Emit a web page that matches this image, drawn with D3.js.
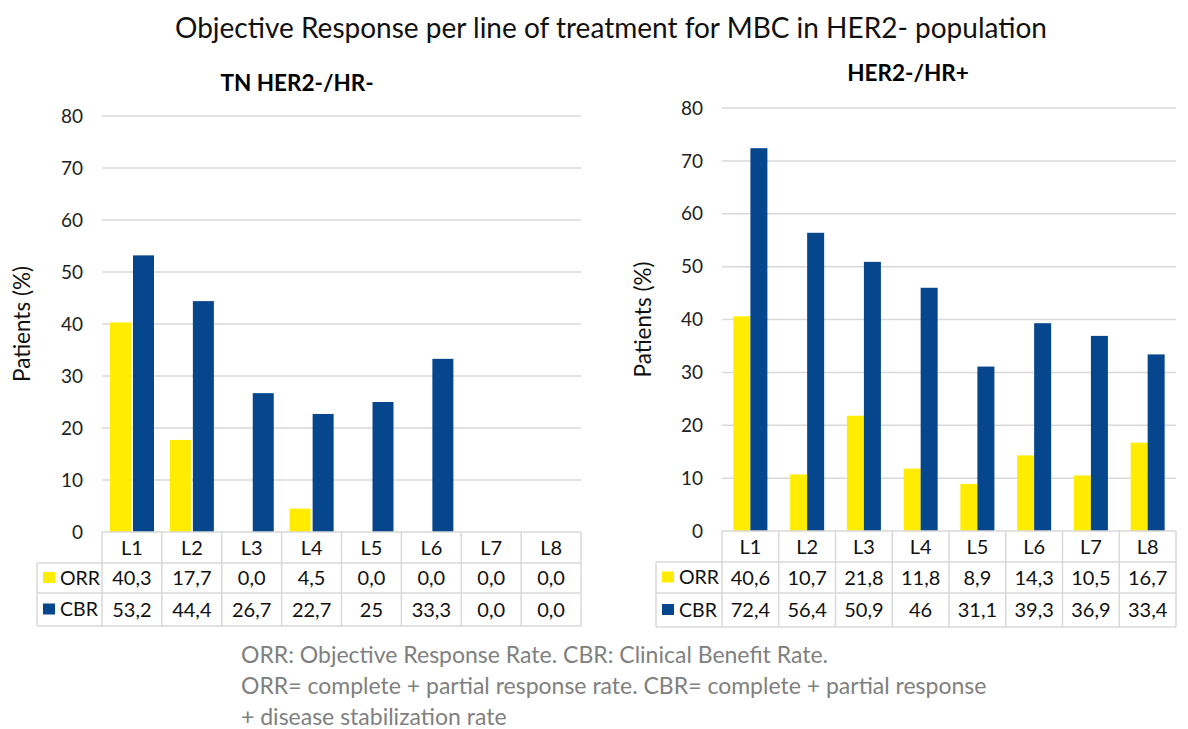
<!DOCTYPE html>
<html>
<head>
<meta charset="utf-8">
<script src="https://cdn.jsdelivr.net/npm/d3@7"></script>
<style>
  body { margin: 0; background: #fff; }
  svg { font-family: Lato, 'Open Sans', sans-serif; }
</style>
</head>
<body>
<svg width="1188" height="729"></svg>
<script>
const lines = ['L1', 'L2', 'L3', 'L4', 'L5', 'L6', 'L7', 'L8']
const series = ['ORR', 'CBR']
const yTicks = [0, 10, 20, 30, 40, 50, 60, 70, 80]

// TN HER2-/HR-
const tnORR = [40.3, 17.7, 0.0, 4.5, 0.0, 0.0, 0.0, 0.0]
const tnCBR = [53.2, 44.4, 26.7, 22.7, 25, 33.3, 0.0, 0.0]
const tnORRText = ['40,3', '17,7', '0,0', '4,5', '0,0', '0,0', '0,0', '0,0']
const tnCBRText = ['53,2', '44,4', '26,7', '22,7', '25', '33,3', '0,0', '0,0']

// HER2-/HR+
const hrORR = [40.6, 10.7, 21.8, 11.8, 8.9, 14.3, 10.5, 16.7]
const hrCBR = [72.4, 56.4, 50.9, 46, 31.1, 39.3, 36.9, 33.4]
const hrORRText = ['40,6', '10,7', '21,8', '11,8', '8,9', '14,3', '10,5', '16,7']
const hrCBRText = ['72,4', '56,4', '50,9', '46', '31,1', '39,3', '36,9', '33,4']

const title = 'Objective Response per line of treatment for MBC in HER2- population'
const footnote = [
  'ORR: Objective Response Rate. CBR: Clinical Benefit Rate.',
  'ORR= complete + partial response rate. CBR= complete + partial response',
  '+ disease stabilization rate'
]

const color = d3.scaleOrdinal().domain(series).range(['#ffec00', '#06468c'])
const gridColor = '#d9d9d9'

const svg = d3.select('svg')

svg.append('text')
  .attr('x', 611)
  .attr('y', 38)
  .attr('text-anchor', 'middle')
  .attr('font-size', 28)
  .attr('fill', '#111')
  .text(title)

const panels = [
  {
    name: 'TN HER2-/HR-', titleX: 297, titleY: 91,
    values: [tnORR, tnCBR], texts: [tnORRText, tnCBRText],
    left: 102, right: 581, top: 116, base: 532,
    headLeft: 37, rowY: [532, 563, 593, 626],
    labelX: 22, tickX: 83, inner: [8, 52], innerPad: 0.087
  },
  {
    name: 'HER2-/HR+', titleX: 908, titleY: 81,
    values: [hrORR, hrCBR], texts: [hrORRText, hrCBRText],
    left: 722, right: 1176, top: 108, base: 531,
    headLeft: 656, rowY: [531, 562, 593, 627],
    labelX: 643, tickX: 703, inner: [11.4, 45.4], innerPad: 0
  }
]

panels.forEach(function(p) {
  const g = svg.append('g')

  const x = d3.scaleBand().domain(lines).range([p.left, p.right]).padding(0)
  const xs = d3.scaleBand().domain(series).range(p.inner).paddingInner(p.innerPad)
  const y = d3.scaleLinear().domain([0, 80]).range([p.base, p.top])

  g.append('text')
    .attr('x', p.titleX)
    .attr('y', p.titleY)
    .attr('text-anchor', 'middle')
    .attr('font-size', 22.5)
    .attr('font-weight', 'bold')
    .attr('fill', '#000')
    .text(p.name)

  // gridlines
  g.append('g')
    .selectAll('line')
    .data(yTicks.slice(1))
    .enter()
    .append('line')
    .attr('x1', p.left)
    .attr('x2', p.right)
    .attr('y1', d => y(d))
    .attr('y2', d => y(d))
    .attr('stroke', gridColor)
    .attr('stroke-width', 1.5)

  // y tick labels
  g.append('g')
    .selectAll('text')
    .data(yTicks)
    .enter()
    .append('text')
    .attr('x', p.tickX)
    .attr('y', d => y(d))
    .attr('dy', '0.35em')
    .attr('text-anchor', 'end')
    .attr('font-size', 19)
    .attr('fill', '#222')
    .text(d => d)

  g.append('text')
    .attr('transform', 'translate(' + p.labelX + ',' + (p.top + p.base) / 2 + ') rotate(-90)')
    .attr('text-anchor', 'middle')
    .attr('dy', '0.35em')
    .attr('font-size', 22.5)
    .attr('fill', '#111')
    .text('Patients (%)')

  // bars
  series.forEach(function(s, si) {
    g.append('g')
      .selectAll('rect')
      .data(p.values[si])
      .enter()
      .append('rect')
      .attr('x', (d, i) => x(lines[i]) + xs(s))
      .attr('width', xs.bandwidth())
      .attr('y', d => y(d))
      .attr('height', d => y(0) - y(d))
      .attr('fill', color(s))
  })

  // data table
  const t = g.append('g')
  const r = p.rowY
  const cellLine = (x1, y1, x2, y2) =>
    t.append('line')
      .attr('x1', x1).attr('y1', y1).attr('x2', x2).attr('y2', y2)
      .attr('stroke', gridColor).attr('stroke-width', 1.5)

  cellLine(p.left, r[0], p.right, r[0])
  cellLine(p.headLeft, r[1], p.right, r[1])
  cellLine(p.headLeft, r[2], p.right, r[2])
  cellLine(p.headLeft, r[3], p.right, r[3])
  cellLine(p.headLeft, r[1], p.headLeft, r[3])
  lines.forEach(l => cellLine(x(l), r[0], x(l), r[3]))
  cellLine(p.right, r[0], p.right, r[3])

  t.selectAll('text.cat')
    .data(lines)
    .enter()
    .append('text')
    .attr('class', 'cat')
    .attr('x', d => x(d) + x.bandwidth() / 2)
    .attr('y', (r[0] + r[1]) / 2)
    .attr('dy', '0.35em')
    .attr('text-anchor', 'middle')
    .attr('font-size', 20)
    .attr('fill', '#111')
    .text(d => d)

  series.forEach(function(s, si) {
    const cy = (r[si + 1] + r[si + 2]) / 2
    t.append('rect')
      .attr('x', p.headLeft + 6)
      .attr('y', cy - 6)
      .attr('width', 12)
      .attr('height', 11)
      .attr('fill', color(s))
    t.append('text')
      .attr('x', p.headLeft + 23)
      .attr('y', cy)
      .attr('dy', '0.35em')
      .attr('font-size', 19.5)
      .attr('fill', '#111')
      .text(s)
    t.append('g')
      .selectAll('text')
      .data(p.texts[si])
      .enter()
      .append('text')
      .attr('x', (d, i) => x(lines[i]) + x.bandwidth() / 2)
      .attr('y', cy)
      .attr('dy', '0.35em')
      .attr('text-anchor', 'middle')
      .attr('font-size', 20)
      .attr('fill', '#111')
      .text(d => d)
  })
})

svg.append('g')
  .selectAll('text')
  .data(footnote)
  .enter()
  .append('text')
  .attr('x', 241)
  .attr('y', (d, i) => 655 + i * 31)
  .attr('dy', '0.35em')
  .attr('font-size', 23)
  .attr('fill', '#808080')
  .text(d => d)
</script>
</body>
</html>
